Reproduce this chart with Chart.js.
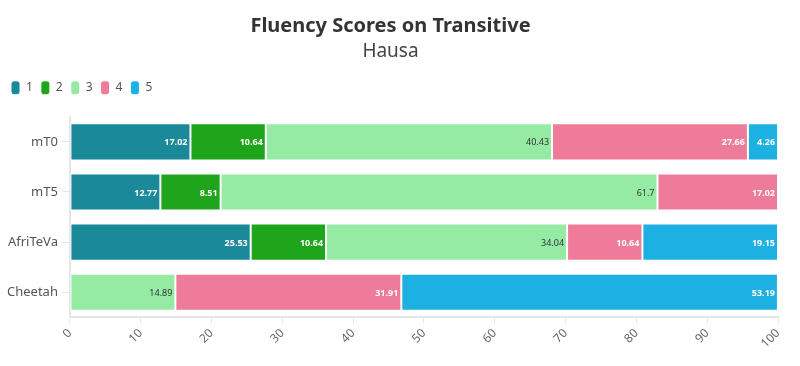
<!DOCTYPE html>
<html>
<head>
<meta charset="utf-8">
<script src="https://cdn.jsdelivr.net/npm/chart.js@4"></script>
<style>
  html, body { margin: 0; padding: 0; background: #fff; }
  #wrap { width: 800px; height: 366px; }
</style>
</head>
<body>
<div id="wrap"><canvas id="fluencyChart"></canvas></div>
<script>
// data
const models = ['mT0', 'mT5', 'AfriTeVa', 'Cheetah'];
const score1 = [17.02, 12.77, 25.53, 0];
const score2 = [10.64, 8.51, 10.64, 0];
const score3 = [40.43, 61.7, 34.04, 14.89];
const score4 = [27.66, 17.02, 10.64, 31.91];
const score5 = [4.26, 0, 19.15, 53.19];
const xTicks = [0, 10, 20, 30, 40, 50, 60, 70, 80, 90, 100];

const FONT = "'Noto Sans', sans-serif";

// small inline value-label plugin (no datalabels plugin available offline)
const valueLabels = {
    id: 'valueLabels',
    afterDatasetsDraw(chart) {
        const ctx = chart.ctx;
        ctx.save();
        chart.data.datasets.forEach((ds, i) => {
            const meta = chart.getDatasetMeta(i);
            if (meta.hidden) return;
            meta.data.forEach((bar, j) => {
                const v = ds.data[j];
                if (!v) return;
                const dark = i === 2;
                ctx.font = (dark ? '' : 'bold ') + '9px ' + FONT;
                ctx.fillStyle = dark ? '#333' : '#fff';
                ctx.textAlign = 'right';
                ctx.textBaseline = 'middle';
                ctx.fillText(String(v), bar.x - 3, bar.y + 1);
            });
        });
        ctx.restore();
    }
};

// extra gap between the legend and the plot
const legendGap = {
    id: 'legendGap',
    beforeInit(chart) {
        const fit = chart.legend.fit;
        chart.legend.fit = function () {
            fit.call(this);
            this.height += 12;
        };
    }
};

const series = [
    { label: '1', data: score1, color: '#1a8999' },
    { label: '2', data: score2, color: '#1ea51b' },
    { label: '3', data: score3, color: '#95eba4' },
    { label: '4', data: score4, color: '#ed7b99' },
    { label: '5', data: score5, color: '#1cb1e2' }
];

new Chart(document.getElementById('fluencyChart'), {
    type: 'bar',
    data: {
        labels: models,
        datasets: series.map(s => ({
            label: s.label,
            data: s.data,
            backgroundColor: s.color,
            borderColor: '#ffffff',
            borderWidth: 1,
            borderSkipped: false,
            barPercentage: 0.925,
            categoryPercentage: 0.8
        }))
    },
    options: {
        indexAxis: 'y',
        responsive: true,
        maintainAspectRatio: false,
        animation: false,
        layout: { padding: { left: 3, right: 22, top: 14, bottom: 12 } },
        plugins: {
            title: {
                display: true,
                text: 'Fluency Scores on Transitive',
                color: '#333',
                font: { family: FONT, size: 20, weight: 'bold' },
                padding: { top: 0, bottom: 2 }
            },
            subtitle: {
                display: true,
                text: 'Hausa',
                color: '#444',
                font: { family: FONT, size: 19, weight: 'normal' },
                padding: { top: 0, bottom: 10 }
            },
            legend: {
                position: 'top',
                align: 'start',
                labels: {
                    useBorderRadius: true,
                    borderRadius: 3,
                    boxWidth: 9,
                    boxHeight: 14,
                    padding: 8,
                    color: '#555',
                    font: { family: FONT, size: 12 }
                }
            },
            tooltip: { enabled: false }
        },
        scales: {
            x: {
                stacked: true,
                min: 0,
                max: 100,
                afterBuildTicks: axis => { axis.ticks = xTicks.map(v => ({ value: v })); },
                grid: { display: true, drawOnChartArea: false, color: '#e6e6e6', tickLength: 6 },
                border: { color: '#e6e6e6', width: 2 },
                ticks: {
                    color: '#666',
                    maxRotation: 45,
                    minRotation: 45,
                    font: { family: FONT, size: 12 }
                }
            },
            y: {
                stacked: true,
                grid: { display: true, offset: false, drawOnChartArea: false, color: '#e6e6e6', tickLength: 8 },
                border: { color: '#e6e6e6', width: 2 },
                ticks: {
                    color: '#555',
                    padding: 4,
                    font: { family: FONT, size: 13 }
                }
            }
        }
    },
    plugins: [valueLabels, legendGap]
});
</script>
</body>
</html>
